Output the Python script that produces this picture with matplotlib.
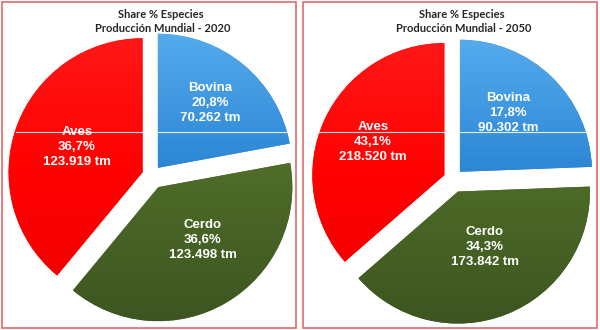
#!/usr/bin/env python3
import numpy as np
import matplotlib
matplotlib.use('Agg')
import matplotlib.pyplot as plt
from matplotlib.colors import LinearSegmentedColormap
from matplotlib.patches import Rectangle

# data (order: Bovina, Cerdo, Aves -> clockwise from 12 o'clock)
species = ['Bovina', 'Cerdo', 'Aves']
share_2020 = ['20,8%', '36,6%', '36,7%']
tm_2020 = ['70.262', '123.498', '123.919']
share_2050 = ['17,8%', '34,3%', '43,1%']
tm_2050 = ['90.302', '173.842', '218.520']
# slice sizes as drawn in the picture (%)
slice_2020 = [22.1, 38.9, 39.0]
slice_2050 = [24.4, 39.2, 36.4]
years = ['2020', '2050']

# gradients top -> bottom
grads = [['#58aef0', '#2a84d2', '#1662ad'],
         ['#5d7e32', '#4e6b28', '#3c5420'],
         ['#ff1a1a', '#ff0000', '#ec0000']]


def draw_panel(ax, x0, center, radius, sizes, shares, tms, year, label_pos):
    ax.add_patch(Rectangle((x0 + 2, 2), 294, 326, fill=False,
                           edgecolor='#e06a6a', linewidth=1.2, zorder=1))
    # explode is in data units (pixels here)
    wedges, _ = ax.pie(sizes, startangle=90, counterclock=False,
                       explode=[10, 13.5, 9.5], center=center,
                       radius=radius, colors=[g[1] for g in grads],
                       wedgeprops=dict(linewidth=0))
    for w, g in zip(wedges, grads):
        cmap = LinearSegmentedColormap.from_list('g', g)
        grad = np.linspace(0, 1, 256).reshape(-1, 1)
        im = ax.imshow(grad, cmap=cmap, aspect='auto', zorder=2,
                       extent=[center[0] - radius - 20, center[0] + radius + 20,
                               center[1] - radius - 20, center[1] + radius + 20],
                       origin='upper')
        im.set_clip_path(w)
    # faint white line across the pie
    ax.plot([center[0] - 136, center[0] + 136], [198, 198],
            color='white', linewidth=0.8, alpha=0.85, zorder=3)

    ax.text(x0 + 161, 315, 'Share % Especies', ha='center', va='center',
            fontsize=8, fontweight='bold', color='#262626', family='Lato')
    ax.text(x0 + 163, 301, f'Producción Mundial - {year}', ha='center',
            va='center', fontsize=8, fontweight='bold', color='#262626',
            family='Lato')

    for name, sh, tm, pos in zip(species, shares, tms, label_pos):
        ax.text(pos[0], pos[1], f'{name}\n{sh}\n{tm} tm', ha='center',
                va='center', color='white', fontsize=9.5, fontweight='bold',
                family='Liberation Sans', linespacing=1.38, zorder=4)


fig = plt.figure(figsize=(6, 3.3), dpi=100)
ax = fig.add_axes([0, 0, 1, 1])

draw_panel(ax, 0, (151.5, 154.5), 134, slice_2020, share_2020, tm_2020,
           years[0], [(210, 227), (203, 90), (77, 183)])
draw_panel(ax, 301, (453, 151), 132, slice_2050, share_2050, tm_2050,
           years[1], [(508, 217), (485, 83), (373, 188)])

ax.set_xlim(0, 600)
ax.set_ylim(0, 330)
ax.set_aspect('auto')
ax.axis('off')

fig.savefig('out.png', dpi=100)
